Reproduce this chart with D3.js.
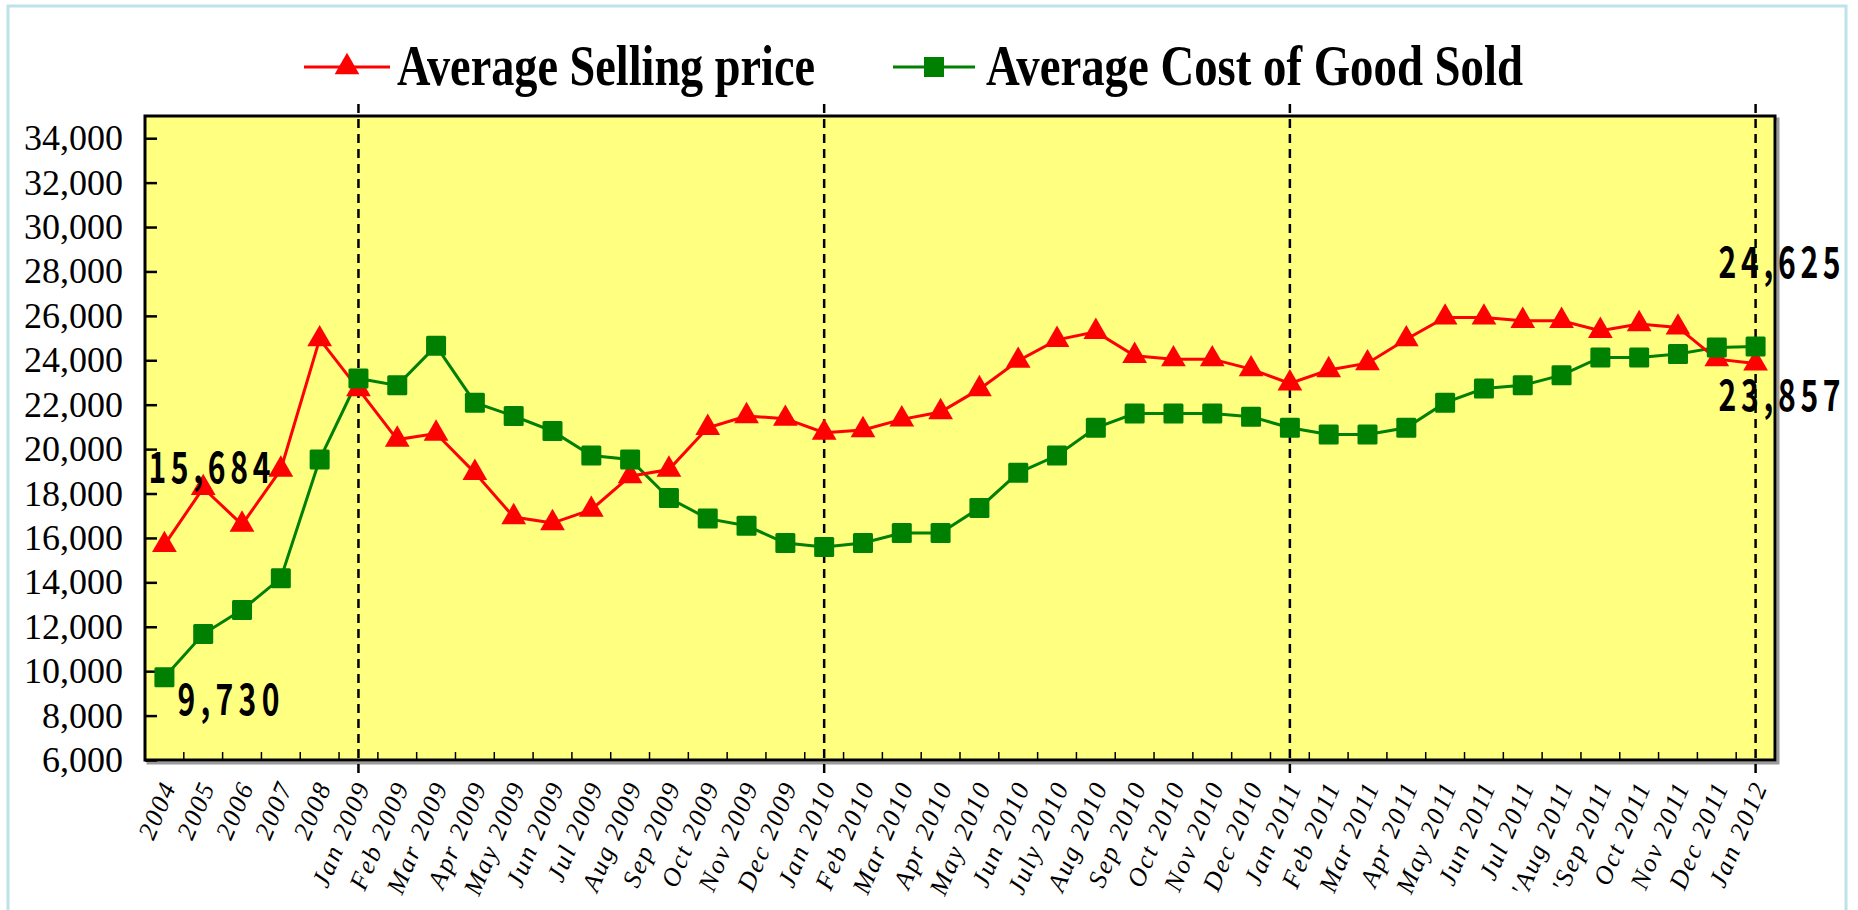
<!DOCTYPE html>
<html>
<head>
<meta charset="utf-8">
<script src="https://cdnjs.cloudflare.com/ajax/libs/d3/7.8.5/d3.min.js"></script>
<style>
  body { margin: 0; background: #fff; }
</style>
</head>
<body>
<script>
var categories = ["2004", "2005", "2006", "2007", "2008",
  "Jan 2009", "Feb 2009", "Mar 2009", "Apr 2009", "May 2009", "Jun 2009",
  "Jul 2009", "Aug 2009", "Sep 2009", "Oct 2009", "Nov 2009", "Dec 2009",
  "Jan 2010", "Feb 2010", "Mar 2010", "Apr 2010", "May 2010", "Jun 2010",
  "July 2010", "Aug 2010", "Sep 2010", "Oct 2010", "Nov 2010", "Dec 2010",
  "Jan 2011", "Feb 2011", "Mar 2011", "Apr 2011", "May 2011", "Jun 2011",
  "Jul 2011", "'Aug 2011", "'Sep 2011", "Oct 2011", "Nov 2011", "Dec 2011",
  "Jan 2012"];

var sellingPrice = [15684, 18250, 16600, 19080, 24950,
  22700, 20430, 20700, 18930, 16940, 16670, 17270, 18780, 19080, 20960, 21490, 21370,
  20740, 20860, 21340, 21670, 22700, 23980, 24920, 25280, 24200, 24050, 24050, 23600,
  22960, 23560, 23870, 24950, 25930, 25930, 25780, 25780, 25330, 25630, 25480, 24050,
  23857];

var costOfGoods = [9730, 11670, 12760, 14190, 19530,
  23180, 22870, 24650, 22090, 21490, 20810, 19710, 19530, 17800, 16870, 16550, 15770,
  15590, 15770, 16220, 16220, 17350, 18930, 19710, 20960, 21600, 21600, 21600, 21460,
  20960, 20660, 20660, 20960, 22090, 22730, 22870, 23330, 24130, 24130, 24280, 24580,
  24625];

var yTicks = [6000, 8000, 10000, 12000, 14000, 16000, 18000, 20000,
  22000, 24000, 26000, 28000, 30000, 32000, 34000];

var seriesNames = ["Average Selling price", "Average Cost of Good Sold"];

// year boundaries marked with dashed lines
var dashCats = ["Jan 2009", "Jan 2010", "Jan 2011", "Jan 2012"];

var W = 1858, H = 910;
var margin = {top: 116, right: 83, bottom: 150, left: 145};
var width = W - margin.left - margin.right;
var height = H - margin.top - margin.bottom;

var red = "#ff0000", green = "#008000";
var fmt = d3.format(",");
var serif = "'Liberation Serif', 'Times New Roman', Times, serif";

var svg = d3.select("body").append("svg")
    .attr("width", W)
    .attr("height", H);

// outer frame
svg.append("rect")
    .attr("x", 8).attr("y", 6)
    .attr("width", 1838).attr("height", 912)
    .attr("fill", "#fff")
    .attr("stroke", "#bde2e8")
    .attr("stroke-width", 3);

var xScale = d3.scalePoint()
    .domain(categories)
    .range([0, width])
    .padding(0.5);

var yScale = d3.scaleLinear()
    .domain([6000, 35000])
    .range([height, 0]);

var g = svg.append("g")
    .attr("transform", "translate(" + margin.left + "," + margin.top + ")");

// plot background + shadow
g.append("rect")
    .attr("x", 3).attr("y", 3)
    .attr("width", width).attr("height", height)
    .attr("fill", "none")
    .attr("stroke", "#9a9a9a")
    .attr("stroke-width", 3);
g.append("rect")
    .attr("width", width).attr("height", height)
    .attr("fill", "#ffff80")
    .attr("stroke", "#000")
    .attr("stroke-width", 3);

// y axis
var yAxis = d3.axisLeft(yScale)
    .tickValues(yTicks)
    .tickSize(-12)
    .tickPadding(22)
    .tickFormat(fmt);

var yGuide = g.append("g").call(yAxis);
yGuide.select(".domain").remove();
yGuide.selectAll("line")
    .style("stroke", "#000")
    .style("stroke-width", 2.5);
yGuide.selectAll("text")
    .style("font-family", serif)
    .style("font-size", "36px")
    .style("fill", "#000");

// x boundary ticks (between categories)
var step = xScale.step();
g.append("g")
    .selectAll("line")
    .data(d3.range(1, categories.length))
    .enter().append("line")
    .attr("x1", function(d){ return d * step; })
    .attr("x2", function(d){ return d * step; })
    .attr("y1", height)
    .attr("y2", height - 8)
    .style("stroke", "#000")
    .style("stroke-width", 1.5);

// x axis labels
var xAxis = d3.axisBottom(xScale).tickSize(0);
var xGuide = g.append("g")
    .attr("transform", "translate(0," + height + ")")
    .call(xAxis);
xGuide.select(".domain").remove();
xGuide.selectAll("text")
    .attr("x", 0).attr("y", 0).attr("dy", 0)
    .attr("text-anchor", "end")
    .attr("transform", "translate(12,26) rotate(-67)")
    .style("font-family", serif)
    .style("font-style", "italic")
    .style("font-size", "26px")
    .style("letter-spacing", "2px")
    .style("fill", "#000");

// dashed year lines
g.append("g")
    .selectAll("line")
    .data(dashCats)
    .enter().append("line")
    .attr("x1", function(d){ return xScale(d); })
    .attr("x2", function(d){ return xScale(d); })
    .attr("y1", -12)
    .attr("y2", height + 14)
    .style("stroke", "#000")
    .style("stroke-width", 2.5)
    .style("stroke-dasharray", "9,6");

// lines
var line = function(values){
    return d3.line()
        .x(function(d, i){ return xScale(categories[i]); })
        .y(function(d){ return yScale(d); })(values);
};

g.append("path")
    .attr("d", line(costOfGoods))
    .attr("fill", "none")
    .attr("stroke", green)
    .attr("stroke-width", 3);

g.append("path")
    .attr("d", line(sellingPrice))
    .attr("fill", "none")
    .attr("stroke", red)
    .attr("stroke-width", 3);

var triangle = d3.symbol().type(d3.symbolTriangle).size(265);

g.append("g")
    .selectAll("path")
    .data(sellingPrice)
    .enter().append("path")
    .attr("d", triangle)
    .attr("transform", function(d, i){
        return "translate(" + xScale(categories[i]) + "," + yScale(d) + ")";
    })
    .attr("fill", red);

g.append("g")
    .selectAll("rect")
    .data(costOfGoods)
    .enter().append("rect")
    .attr("x", function(d, i){ return xScale(categories[i]) - 10; })
    .attr("y", function(d){ return yScale(d) - 10; })
    .attr("width", 20)
    .attr("height", 20)
    .attr("rx", 1.5)
    .attr("fill", green);

// end value labels (narrow, tall gothic digits)
var labelFont = "'Noto Sans CJK JP', 'Noto Sans', sans-serif";
var squeeze = 0.7;
function valueLabel(x, y, v){
    var w = fmt(v).length > 5 ? 122 : 102;
    g.append("g")
        .attr("transform", "translate(" + x + "," + y + ") scale(" + squeeze + ",1)")
        .append("text")
        .attr("textLength", w / squeeze)
        .attr("lengthAdjust", "spacing")
        .style("font-family", labelFont)
        .style("font-weight", "bold")
        .style("font-size", "43px")
        .style("fill", "#000")
        .text(fmt(v));
}
var last = categories.length - 1;
valueLabel(xScale(categories[0]) - 16, yScale(sellingPrice[0]) - 62, sellingPrice[0]);
valueLabel(xScale(categories[0]) + 13, yScale(costOfGoods[0]) + 38, costOfGoods[0]);
valueLabel(xScale(categories[last]) - 37, yScale(costOfGoods[last]) - 68, costOfGoods[last]);
valueLabel(xScale(categories[last]) - 37, yScale(sellingPrice[last]) + 48, sellingPrice[last]);

// legend
var legend = svg.append("g");
var legendItems = [
    {name: seriesNames[0], color: red, x1: 304, x2: 390, tx: 397, tl: 418, mark: "tri"},
    {name: seriesNames[1], color: green, x1: 893, x2: 975, tx: 986, tl: 537, mark: "sq"}
];
legendItems.forEach(function(it){
    legend.append("line")
        .attr("x1", it.x1).attr("x2", it.x2)
        .attr("y1", 67).attr("y2", 67)
        .style("stroke", it.color)
        .style("stroke-width", 3);
    var cx = (it.x1 + it.x2) / 2;
    if (it.mark == "tri") {
        legend.append("path")
            .attr("d", triangle)
            .attr("transform", "translate(" + cx + ",67)")
            .attr("fill", it.color);
    } else {
        legend.append("rect")
            .attr("x", cx - 10).attr("y", 57)
            .attr("width", 20).attr("height", 20)
            .attr("fill", it.color);
    }
    legend.append("text")
        .attr("x", it.tx).attr("y", 85)
        .attr("textLength", it.tl)
        .attr("lengthAdjust", "spacingAndGlyphs")
        .style("font-family", serif)
        .style("font-weight", "bold")
        .style("font-size", "58px")
        .style("fill", "#000")
        .text(it.name);
});
</script>
</body>
</html>
